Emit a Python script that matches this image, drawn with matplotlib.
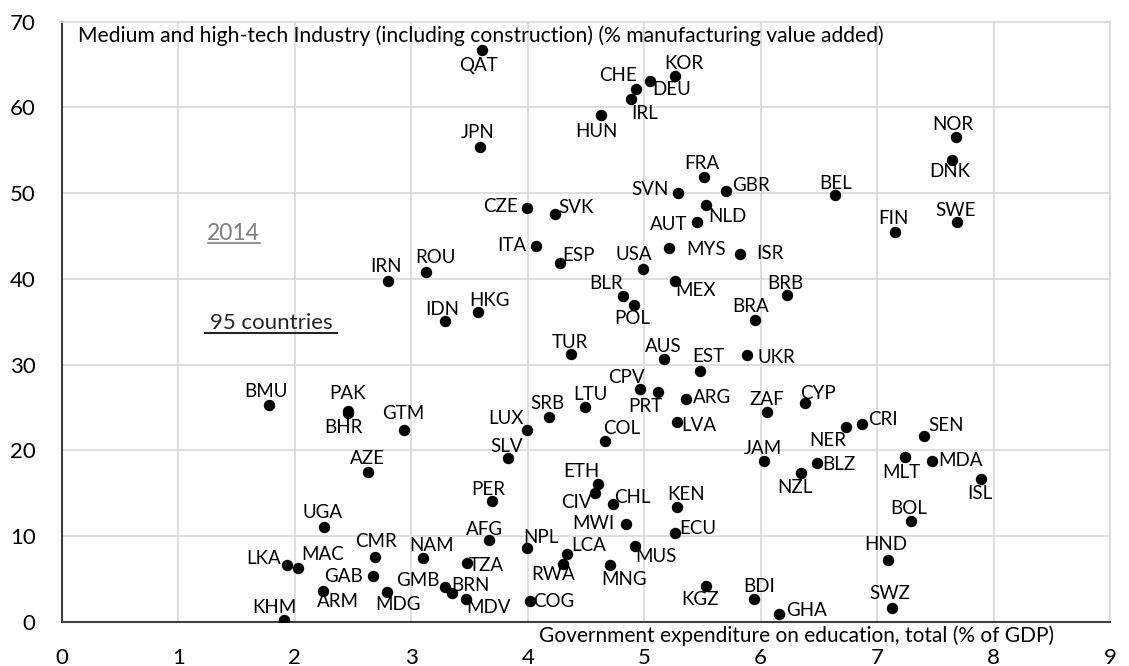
import matplotlib
matplotlib.use('Agg')
import matplotlib.pyplot as plt

# --- dane (2014) ---
codes = ['QAT', 'CHE', 'DEU', 'KOR', 'IRL', 'HUN', 'JPN', 'FRA', 'SVN', 'GBR', 'NLD', 'AUT', 'CZE', 'SVK',
         'NOR', 'DNK', 'BEL', 'FIN', 'SWE',
         'ITA', 'ESP', 'USA', 'MYS', 'ISR', 'IRN', 'ROU', 'MEX', 'BLR', 'POL', 'IDN', 'HKG', 'BRA', 'TUR',
         'AUS', 'EST', 'UKR', 'CPV', 'PRT', 'ARG', 'LTU', 'SRB', 'ZAF', 'LVA', 'GTM', 'LUX', 'COL',
         'BMU', 'PAK', 'BHR',
         'BRB', 'CYP', 'NER', 'CRI', 'SEN',
         'AZE', 'UGA', 'CMR', 'LKA', 'MAC', 'GAB', 'ARM', 'MDG', 'KHM',
         'SLV', 'ETH', 'CIV', 'CHL', 'KEN', 'PER', 'MWI', 'ECU', 'AFG', 'NAM', 'NPL', 'LCA', 'MUS', 'TZA',
         'RWA', 'MNG', 'GMB', 'BRN', 'MDV', 'COG', 'KGZ', 'BDI', 'GHA', 'JAM',
         'BLZ', 'NZL', 'MLT', 'MDA', 'ISL', 'BOL', 'HND', 'SWZ']

edu_spend = [3.61, 4.93, 5.05, 5.26, 4.89, 4.63, 3.59, 5.51, 5.29, 5.70, 5.53, 5.45, 3.99, 4.23,
             7.68, 7.64, 6.64, 7.15, 7.69,
             4.07, 4.28, 4.99, 5.21, 5.82, 2.80, 3.13, 5.26, 4.82, 4.91, 3.29, 3.57, 5.95, 4.37,
             5.17, 5.48, 5.88, 4.96, 5.12, 5.36, 4.49, 4.18, 6.05, 5.28, 2.94, 3.99, 4.66,
             1.78, 2.46, 2.46,
             6.23, 6.38, 6.73, 6.87, 7.40,
             2.63, 2.25, 2.69, 1.93, 2.03, 2.67, 2.24, 2.79, 1.91,
             3.83, 4.60, 4.58, 4.73, 5.28, 3.69, 4.84, 5.26, 3.67, 3.10, 3.99, 4.34, 4.92, 3.48,
             4.30, 4.71, 3.29, 3.35, 3.47, 4.02, 5.53, 5.94, 6.16, 6.03,
             6.48, 6.35, 7.24, 7.47, 7.89, 7.29, 7.09, 7.13]

mht_share = [66.7, 62.2, 63.1, 63.7, 61.0, 59.1, 55.4, 51.9, 50.0, 50.2, 48.6, 46.6, 48.3, 47.6,
             56.5, 53.9, 49.8, 45.5, 46.6,
             43.8, 41.8, 41.2, 43.6, 42.9, 39.8, 40.8, 39.8, 38.0, 37.0, 35.1, 36.1, 35.2, 31.2,
             30.7, 29.2, 31.1, 27.1, 26.8, 26.0, 25.0, 23.9, 24.5, 23.3, 22.4, 22.4, 21.1,
             25.3, 24.6, 24.4,
             38.1, 25.5, 22.7, 23.1, 21.7,
             17.5, 11.0, 7.6, 6.6, 6.3, 5.3, 3.6, 3.5, 0.2,
             19.1, 16.1, 15.0, 13.7, 13.4, 14.1, 11.4, 10.3, 9.5, 7.4, 8.6, 7.9, 8.8, 6.8,
             6.7, 6.6, 4.0, 3.3, 2.6, 2.4, 4.2, 2.6, 0.9, 18.8,
             18.5, 17.3, 19.2, 18.8, 16.6, 11.7, 7.2, 1.6]

# Przesunięcia etykiet względem punktu (piksele, y w dół jak na obrazku)
label_offsets = {
    'QAT': (-4, 16), 'CHE': (-18, -13), 'DEU': (22, 9), 'KOR': (9, -12), 'IRL': (13, 15),
    'HUN': (-5, 16), 'JPN': (-2, -14), 'FRA': (-2, -13), 'SVN': (-28, -4), 'GBR': (25, -6),
    'NLD': (21, 11), 'AUT': (-28, 2), 'CZE': (-26, -1), 'SVK': (21, -6),
    'NOR': (-4, -13), 'DNK': (-2, 12), 'BEL': (0, -11), 'FIN': (-1, -13), 'SWE': (-2, -12),
    'ITA': (-24, -1), 'ESP': (18, -8), 'USA': (-9, -14), 'MYS': (37, 2), 'ISR': (30, 0),
    'IRN': (-2, -14), 'ROU': (9, -14), 'MEX': (21, 10), 'BLR': (-17, -12), 'POL': (-2, 14),
    'IDN': (-3, -11), 'HKG': (12, -12), 'BRA': (-4, -13), 'TUR': (-1, -12), 'AUS': (-1, -12),
    'EST': (8, -15), 'UKR': (30, 2), 'CPV': (-13, -12), 'PRT': (-13, 15), 'ARG': (26, -1),
    'LTU': (6, -13), 'SRB': (-1, -13), 'ZAF': (0, -12), 'LVA': (22, 4), 'GTM': (-1, -16),
    'LUX': (-21, -11), 'COL': (17, -12),
    'BMU': (-3, -13), 'PAK': (-1, -17), 'BHR': (-5, 15),
    'BRB': (-2, -12), 'CYP': (13, -10), 'NER': (-18, 13), 'CRI': (21, -4), 'SEN': (22, -10),
    'AZE': (-1, -13), 'UGA': (-1, -15), 'CMR': (1, -15), 'LKA': (-23, -7), 'MAC': (24, -13),
    'GAB': (-29, 0), 'ARM': (15, 11), 'MDG': (11, 13), 'KHM': (-10, -12),
    'SLV': (-1, -11), 'ETH': (-16, -12), 'CIV': (-19, 9), 'CHL': (20, -7), 'KEN': (9, -12),
    'PER': (-3, -11), 'MWI': (-32, 0), 'ECU': (23, -5), 'AFG': (-5, -11), 'NAM': (9, -13),
    'NPL': (14, -10), 'LCA': (21, -8), 'MUS': (21, 10), 'TZA': (19, 2), 'RWA': (-10, 10),
    'MNG': (14, 14), 'GMB': (-27, -7), 'BRN': (18, -8), 'MDV': (22, 8), 'COG': (24, 0),
    'KGZ': (-6, 14), 'BDI': (5, -13), 'GHA': (27, -3), 'JAM': (-1, -12),
    'BLZ': (22, 1), 'NZL': (-7, 14), 'MLT': (-4, 15), 'MDA': (29, 0), 'ISL': (-1, 14),
    'BOL': (-2, -13), 'HND': (-2, -15), 'SWZ': (-2, -14),
}

plt.rcParams['font.family'] = ['Lato', 'DejaVu Sans']

fig = plt.figure(figsize=(11.29, 6.66), dpi=100)
ax = fig.add_axes([0.0549, 0.0665, 0.9283, 0.9009])

ax.set_xlim(0, 9)
ax.set_ylim(0, 70)
ax.set_xticks(range(0, 10))
ax.set_yticks(range(0, 71, 10))
ax.grid(True, color='#d9d9d9', linewidth=1.2)
ax.set_axisbelow(True)
ax.tick_params(length=0, labelsize=16, colors='#000000')
ax.tick_params(axis='x', pad=19)
ax.tick_params(axis='y', pad=19)

for side in ['top', 'right']:
    ax.spines[side].set_color('#d9d9d9')
    ax.spines[side].set_linewidth(1.2)
for side in ['left', 'bottom']:
    ax.spines[side].set_color('#404040')
    ax.spines[side].set_linewidth(1.5)

ax.plot(edu_spend, mht_share, 'o', color='black', markersize=7.2, linestyle='none', zorder=3)

for code, xv, yv in zip(codes, edu_spend, mht_share):
    dx, dy = label_offsets[code]
    ax.annotate(code, (xv, yv), xytext=(dx, -dy), textcoords='offset pixels',
                ha='center', va='center', fontsize=13.5, color='black', zorder=4)

# Tytuły osi wewnątrz obszaru wykresu
ax.text(0.0152, 0.9667, 'Medium and high-tech Industry (including construction) (% manufacturing value added)',
        transform=ax.transAxes, ha='left', va='baseline', fontsize=15.2)
ax.text(0.947, -0.0333, 'Government expenditure on education, total (% of GDP)',
        transform=ax.transAxes, ha='right', va='baseline', fontsize=15)

ax.text(1.475, 44.55, '2014', ha='center', va='baseline', fontsize=16.5, color='#7f7f7f')
ax.plot([1.25, 1.70], [44.2, 44.2], color='#7f7f7f', linewidth=1.2)
ax.text(1.795, 34.2, '95 countries', ha='center', va='baseline', fontsize=16, color='#262626')
ax.plot([1.23, 2.36], [33.65, 33.65], color='#262626', linewidth=1.5)

fig.savefig('out.png', dpi=100)
